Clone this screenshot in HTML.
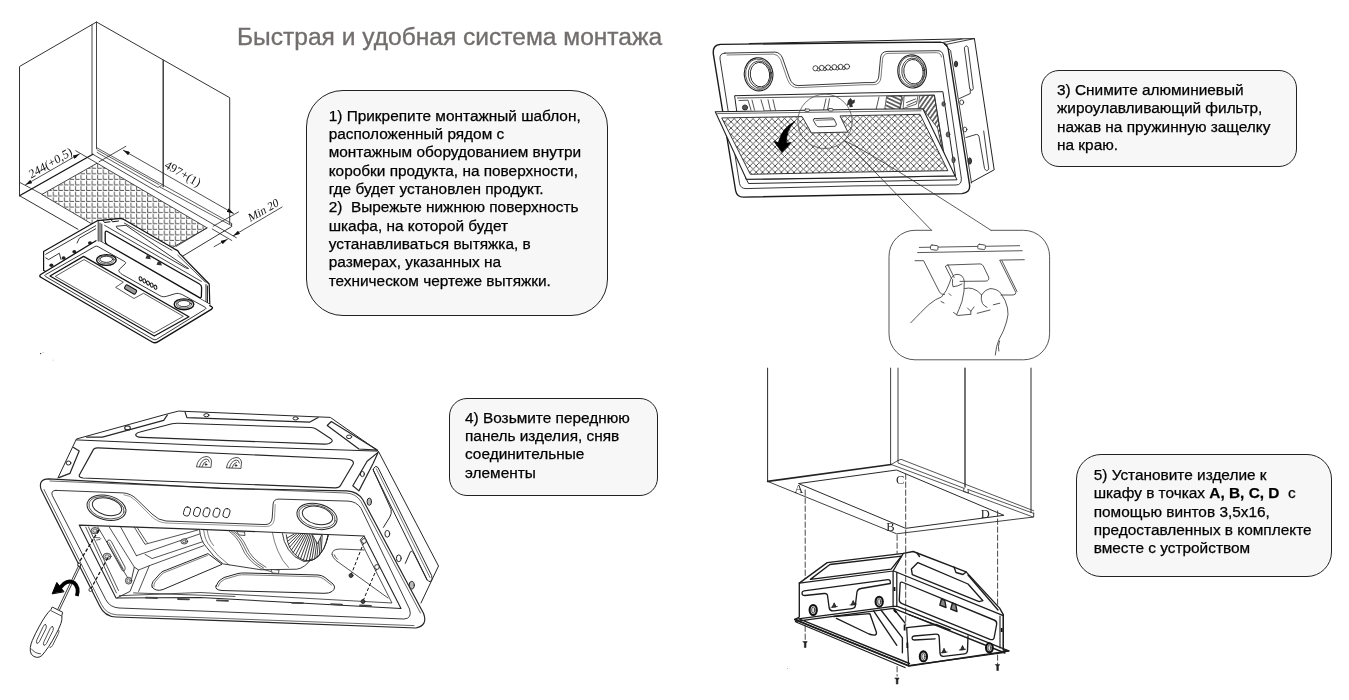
<!DOCTYPE html>
<html><head><meta charset="utf-8">
<style>
html,body{margin:0;padding:0;background:#fff;}
body{width:1349px;height:700px;position:relative;overflow:hidden;font-family:"Liberation Sans",sans-serif;}
#title{position:absolute;left:237px;top:22.5px;font-size:24.55px;color:#726e6e;white-space:nowrap;line-height:28px;-webkit-text-stroke:0.35px #726e6e;}
.box{position:absolute;box-sizing:border-box;border:1px solid #222;background:#f7f7f7;}
.t{position:absolute;white-space:nowrap;color:#000;-webkit-text-stroke:0.25px #000;font-size:15.4px;line-height:18.33px;}
#art{position:absolute;left:0;top:0;}
</style></head><body>
<div id="wrap" style="position:absolute;left:0;top:0;width:1349px;height:700px;will-change:transform;background:#fff;">
<div id="title">Быстрая и удобная система монтажа</div>
<div class="box" id="b1" style="left:306px;top:90px;width:302px;height:226px;border-radius:37px;"></div>
<div class="t" id="t1" style="left:328.7px;top:106.7px;">1) Прикрепите монтажный шаблон,<br>расположенный рядом с<br>монтажным оборудованием внутри<br>коробки продукта, на поверхности,<br>где будет установлен продукт.<br>2)&nbsp; Вырежьте нижнюю поверхность<br>шкафа, на которой будет<br>устанавливаться вытяжка, в<br>размерах, указанных на<br>техническом чертеже вытяжки.</div>
<div class="box" id="b3" style="left:1041px;top:70px;width:256px;height:97px;border-radius:18px;"></div>
<div class="t" id="t3" style="left:1057px;top:81.1px;">3) Снимите алюминиевый<br>жироулавливающий фильтр,<br>нажав на пружинную защелку<br>на краю.</div>
<div class="box" id="b4" style="left:449px;top:398px;width:209px;height:98px;border-radius:18px;"></div>
<div class="t" id="t4" style="left:465px;top:408.6px;">4) Возьмите переднюю<br>панель изделия, сняв<br>соединительные<br>элементы</div>
<div class="box" id="b5" style="left:1076px;top:454px;width:256px;height:123px;border-radius:25px;"></div>
<div class="t" id="t5" style="left:1093.7px;top:466px;">5) Установите изделие к<br>шкафу в точках <b>A, B, C, D</b>&nbsp; с<br>помощью винтов 3,5х16,<br>предоставленных в комплекте<br>вместе с устройством</div>
<svg id="art" width="1349" height="700" viewBox="0 0 1349 700" fill="none" stroke="#333" stroke-width="1" stroke-linecap="round" stroke-linejoin="round">
<defs>
<pattern id="hL" width="5.55" height="5.55" patternUnits="userSpaceOnUse" x="97.1" y="163.2">
<path d="M0.6 1V5H4.3" stroke="#3c3c3c" stroke-width="0.85" fill="none"/>
</pattern>
<marker id="ah" viewBox="0 0 10 6" refX="10" refY="3" markerWidth="7" markerHeight="4" orient="auto-start-reverse" markerUnits="userSpaceOnUse"><path d="M0 0L10 3L0 6z" fill="#111" stroke="none"/></marker>
</defs>
<g id="d1">
<!-- hatch -->
<path d="M42.1 194.3L97.1 163.2L207.1 227.9L152.1 259z" fill="url(#hL)" stroke="#333" stroke-width="0.9"/>
<!-- cabinet -->
<path d="M19.5 195.7V66.5L96.5 22L229.7 97.7V223.7" />
<path d="M92 24.6V153.6M96.5 22V148.6" stroke-width="0.9"/>
<path d="M163.2 60.4V186.5" stroke-width="1.4"/>
<path d="M19.5 195.7L92.9 154.3" stroke-width="1.3" stroke="#111"/>
<path d="M19.5 195.7L78 229.3"/>
<path d="M92.9 154.3L236.3 237.7" stroke-width="0.9"/>
<path d="M97.1 147.9L231.8 223.6M97.1 149.9L159 184.6M160 187L231.8 225.8M97.1 152.4L158 187.5L161.5 185.2" stroke-width="0.8"/>
<path d="M231.6 224V226.6L182.9 256"/>
<path d="M207.1 227.9L176 246.5" stroke-width="0.9"/>
<!-- dimensions -->
<g stroke="#222" stroke-width="0.8">
<path d="M25.5 184.8L79.5 153.9" marker-start="url(#ah)" marker-end="url(#ah)"/>
<path d="M19.5 182.3L42.1 194.3M75.7 150.7L97.1 163.2"/>
<path d="M123.3 150.3L233.5 213.4" marker-start="url(#ah)" marker-end="url(#ah)"/>
<path d="M125.9 146.3L99 161.8M238.5 212L213.2 226.2"/>
<path d="M214.1 246.7L227.5 239.2" marker-end="url(#ah)"/>
<path d="M282.1 207L233.3 235.7" marker-end="url(#ah)"/>
<path d="M212.2 229L231.8 240.5"/>
</g>
<g font-family="Liberation Serif, serif" font-size="12.2" fill="#111" stroke="none">
<text transform="translate(31 178.8) rotate(-30) skewX(-8)">244(+0,5)</text>
<text transform="translate(163.8 167.3) rotate(30)">497+(1)</text>
<text transform="translate(250 222.3) rotate(-30) skewX(-12)" font-size="11.6">Min 20</text>
</g>
<g id="speck" stroke="none"><rect x="40" y="353" width="1.2" height="1.2" fill="#444"/><rect x="42.300" y="352.300" width="2" height="0.800" fill="#ccc"/><rect x="52.600" y="359.500" width="1.600" height="1.600" fill="#e6e6e6"/><rect x="787" y="668" width="1" height="1" fill="#bbb"/></g><!--HOOD1--><g id="hood1">
<path d="M43.6 270.5L43.6 251.4L97.7 220.6L120.9 218.4L124.3 219.7L173.8 248.6L177.7 250.6L179.8 253.8L209.2 284.0L209.8 304.6L155.0 320.0z" fill="#fff" stroke="#111" stroke-width="1.2"/>
<path d="M45.7 254.3L95.7 225.7M45.7 257.9L48.6 259.6L59.3 253.2L61 259.5M77.1 243L79.3 238.2L95.7 228.8" stroke-width="0.9" stroke="#222"/>
<ellipse cx="51.4" cy="265.3" rx="2" ry="1.7" fill="#222" stroke="none"/>
<ellipse cx="63.6" cy="258" rx="2" ry="1.7" fill="#222" stroke="none"/>
<ellipse cx="74.3" cy="251.8" rx="2" ry="1.7" fill="#222" stroke="none"/>
<ellipse cx="90" cy="243" rx="2" ry="1.7" fill="#222" stroke="none"/>
<path d="M98.2 221.5V241.5M100 223V241.5M101.8 224V242" stroke-width="0.9" stroke="#111"/>
<path d="M124.3 223L172 250.4M104.6 225.3L201.4 281.4" stroke-width="0.9"/>
<path d="M116.6 226.2L126 225.3L188.6 268.6L185.5 267.8L117.4 228.3z" stroke-width="0.9" stroke="#222"/>
<path d="M103 220.2L104.5 222.5L110 221.8M111 219.3L112.5 221.8L118.5 221" stroke-width="1" stroke="#111"/>
<path d="M177.7 255.1L205.3 282.1M181 254.5L207.3 283" stroke-width="0.8"/>
<path d="M107.4 231.5Q105.2 230.3 105.2 232.8L105.2 241.0Q105.2 243.5 107.4 244.7L199.1 297.4Q201.3 298.6 201.4 296.1L201.6 287.7Q201.7 285.2 199.5 284.0z" stroke="#111" stroke-width="1.3"/>
<path d="M145.4 258.5L146.9 255L149.9 256L150.70000000000002 259.3z" fill="#333" stroke="none"/>
<path d="M156.5 264.8L158 261.3L161 262.3L161.8 265.6z" fill="#333" stroke="none"/>
<path d="M206 284.5V302.5M207.5 286V303" stroke-width="0.9" stroke="#111"/>
<path d="M101 241.8L209.5 304.3M103 245.6L206 305" stroke-width="1.2" stroke="#111"/>
<path d="M38.4 275.9L95.5 241.2L101.0 241.8L209.5 304.3L213.6 307.9L155.0 343.6z" fill="#fff" stroke="none"/>
<path d="M96.0 240.8L41.1 274.2Q38.4 275.9 41.2 277.5L152.2 342.0Q155.0 343.6 157.7 341.9L210.9 309.6Q213.6 307.9 211.7 306.8L209.8 305.6" stroke="#111" stroke-width="1.3"/>
<path d="M45.5 276.5Q43.9 275.6 45.5 274.7L94.8 246.6Q96.4 245.7 98.0 246.6L124.9 261.7Q126.5 262.6 125.2 263.8L119.5 269.2Q118.2 270.4 119.3 271.8L119.6 272.2Q120.7 273.6 122.3 274.5L160.0 295.7Q161.6 296.6 163.2 296.7L163.2 296.7Q164.9 296.8 166.6 296.3L175.2 293.7Q176.9 293.2 178.7 293.5L179.4 293.7Q181.2 294.0 182.8 294.9L205.3 307.3Q206.9 308.2 205.4 309.1L156.5 339.4Q155.0 340.3 153.4 339.4z" stroke="#222" stroke-width="0.9"/>
<path d="M50.0 276.0L83.6 256.4L188.9 316.7L154.3 336.0z" stroke="#111" stroke-width="1.3"/>
<path d="M55.6 276.2L84.0 259.6L123.3 282.2L115.6 287.3L134.0 298.5L143.5 293.3L183.3 316.3L154.3 332.8z" stroke="#333" stroke-width="0.8"/>
<g transform="translate(130.6 289.5) rotate(30)"><rect x="-6.2" y="-2.3" width="12.4" height="4.6" rx="1.2" stroke="#111" stroke-width="1" fill="#999"/></g>
<ellipse cx="106.4" cy="260" rx="9.8" ry="5.4" stroke="#111" stroke-width="1.4"/><ellipse cx="106.4" cy="259.7" rx="7.8" ry="4.2" stroke="#333" stroke-width="0.8"/><ellipse cx="106.4" cy="259.3" rx="6.3" ry="3.1" stroke="#222" stroke-width="0.9"/>
<ellipse cx="184" cy="304.3" rx="9.8" ry="5.4" stroke="#111" stroke-width="1.4"/><ellipse cx="184" cy="304.0" rx="7.8" ry="4.2" stroke="#333" stroke-width="0.8"/><ellipse cx="184" cy="303.6" rx="6.3" ry="3.1" stroke="#222" stroke-width="0.9"/>
<ellipse cx="140.6" cy="278.8" rx="1.4" ry="2.1" stroke="#111" stroke-width="1" transform="rotate(-20 140.6 278.8)"/>
<ellipse cx="144.3" cy="280.9" rx="1.4" ry="2.1" stroke="#111" stroke-width="1" transform="rotate(-20 144.3 280.9)"/>
<ellipse cx="148.0" cy="283.0" rx="1.4" ry="2.1" stroke="#111" stroke-width="1" transform="rotate(-20 148.0 283.0)"/>
<ellipse cx="151.7" cy="285.1" rx="1.4" ry="2.1" stroke="#111" stroke-width="1" transform="rotate(-20 151.7 285.1)"/>
<ellipse cx="155.4" cy="287.2" rx="1.4" ry="2.1" stroke="#111" stroke-width="1" transform="rotate(-20 155.4 287.2)"/></g><!--/HOOD1--></g>

<defs>
<pattern id="mesh" width="6.3" height="6.3" patternUnits="userSpaceOnUse" patternTransform="translate(724.7 115.5)">
<path d="M0 0L6.3 6.3M6.3 0L0 6.3" stroke="#3a3a3a" stroke-width="0.85" fill="none"/>
</pattern>
<pattern id="imp" width="3.6" height="3.6" patternUnits="userSpaceOnUse" patternTransform="rotate(25)">
<path d="M0 1.8H3.6" stroke="#2a2a2a" stroke-width="1.2"/>
</pattern>
</defs>
<g id="d3" stroke-width="1.1" stroke="#2a2a2a">
<!-- body back/top/side -->
<path d="M749.3 43.5L974.4 38.6L994.2 169.8L971 182.5" stroke="#222" stroke-width="1"/>
<path d="M946 44.5L974.4 38.6M943 42.4L962 38.9" stroke-width="0.9"/>
<!-- side details -->
<path d="M964.5 47.5Q966.2 44.3 968 47.2L973.3 88.5Q972.3 92 970 89.2z" stroke-width="0.9"/>
<path d="M959.5 98.5L970.3 93.5L970.3 89M966 137.5L976.3 134.4Q978.5 134.4 979 136.5L984.5 168.5Q986.5 172.5 988.8 169L983.7 131" stroke-width="0.9"/>
<g fill="#444" stroke="#222" stroke-width="0.8"><ellipse cx="956" cy="64" rx="1.6" ry="3"/><ellipse cx="961.7" cy="102.3" rx="2" ry="2.4" fill="#fff"/><ellipse cx="964.9" cy="129.5" rx="2" ry="2.4" fill="#fff"/><ellipse cx="969.8" cy="161" rx="1.7" ry="3.2"/></g>
<!-- plate outer -->
<path d="M720.7 44.4L865 42.8L940 42.1Q947.2 42.4 948.4 50L969.6 185Q970.4 192.8 962 193.6L855 195L743.5 197.1Q736.8 197.2 735.6 190.5L713.4 54.3Q712.2 44.7 720.7 44.4z" fill="#fff" stroke="#1c1c1c" stroke-width="1.4"/>
<path d="M944 44L950.6 50.5L971.5 183" stroke-width="0.9"/>
<!-- inner border (double) -->
<path id="ib3" d="M725 53.1L775 52.1Q780 52.3 782.5 58L789.5 78Q792 85.3 798 85.6L865 82.6L873 82.6Q878.3 82.3 878.8 76L880.5 58Q881 51.8 887 51.4L938 50.7Q942.6 50.8 943.4 56L961.3 178Q962 184.8 956 185L855 185.9L746 188.6Q740.6 188.6 739.5 183.5L720 59Q719.4 53.3 725 53.1z" stroke="#222" stroke-width="0.9"/>
<path d="M727 55L773.5 54.1Q778 54.3 780.5 59.5L787.5 79.5Q790.5 87.5 797.5 87.7L865 84.7L874 84.7Q880.5 84.3 881 77L882.5 59.5Q883 53.7 888 53.4L936.5 52.7Q940.8 52.8 941.5 57" stroke="#444" stroke-width="0.7"/>
<!-- opening -->
<path d="M735 95.7L865 92.9L942.9 91.7L955.5 176L746.4 179.3z" fill="#fff" stroke="#222" stroke-width="1"/>
<path d="M737.5 98L934.3 95L947 172M739 100.5L748 100.2L751 110M752 100L754.5 110M761 99.8L764 110M768 99.7L770.5 110.5M773 99.6L775.5 110.5" stroke-width="0.8"/>
<path d="M826 98.8L823.5 110M829.5 98.8L827.5 110" stroke-width="0.8"/>
<circle cx="745" cy="107.5" r="2.6" fill="#555" stroke="#222" stroke-width="0.8"/>
<path d="M848 100.500L850.500 98L852.500 100.500L855 99.500L854.500 103L852.300 104L852.800 107L849.500 107.300L849.200 104.500L846.800 106z" fill="#333" stroke="none"/>
<!-- impeller -->
<defs><pattern id="imp2" width="3.6" height="3.6" patternUnits="userSpaceOnUse" patternTransform="rotate(-55)"><path d="M0 1.8H3.6" stroke="#2a2a2a" stroke-width="1.2"/></pattern></defs>
<path d="M887 96.300L902 96L899.500 109.800L885 110.100z" fill="url(#imp)" stroke="#222" stroke-width="0.7"/>
<path d="M904.500 96L918 95.700L916.500 104L903.500 108.500z" fill="#fff" stroke="#222" stroke-width="0.7"/>
<path d="M906.500 102.500L915.500 99M907 105.500L916 101.500" stroke-width="0.8"/>
<path d="M920 95.700L934.500 95.300L944.500 160L937.500 128L923.500 109.500L918.500 109.600z" fill="url(#imp2)" stroke="#222" stroke-width="0.7"/>
<path d="M903 97L900 109M879 97L876 110" stroke-width="0.8"/>
<g fill="#666" stroke="#222" stroke-width="0.7"><ellipse cx="948" cy="134.500" rx="1.800" ry="2.600"/><ellipse cx="943.500" cy="104" rx="1.600" ry="2.300"/><ellipse cx="953.500" cy="160" rx="1.600" ry="3"/></g>
<!-- lights -->
<g stroke="#222">
<ellipse cx="758.6" cy="74.3" rx="14.3" ry="16.6" stroke-width="1.1" transform="rotate(-8 758.6 74.3)"/>
<ellipse cx="758.6" cy="74.3" rx="13" ry="15.3" stroke-width="0.7" transform="rotate(-8 758.6 74.3)"/>
<ellipse cx="759.6" cy="74.6" rx="11.3" ry="13.7" stroke-width="0.8" transform="rotate(-8 759.6 74.6)"/>
<ellipse cx="760" cy="74.6" rx="9.7" ry="12.3" stroke-width="0.9" transform="rotate(-8 760 74.6)"/>
<ellipse cx="912.1" cy="71.4" rx="14.3" ry="16.6" stroke-width="1.1" transform="rotate(-8 912.1 71.4)"/>
<ellipse cx="912.1" cy="71.4" rx="13" ry="15.3" stroke-width="0.7" transform="rotate(-8 912.1 71.4)"/>
<ellipse cx="913.1" cy="71.7" rx="11.3" ry="13.7" stroke-width="0.8" transform="rotate(-8 913.1 71.7)"/>
<ellipse cx="913.5" cy="71.7" rx="9.7" ry="12.3" stroke-width="0.9" transform="rotate(-8 913.5 71.7)"/>
</g>
<!-- buttons -->
<g stroke="#222" stroke-width="0.8" fill="#fff"><circle cx="815.5" cy="68.3" r="2.6"/><circle cx="821.8" cy="67.9" r="2.6"/><circle cx="828.1" cy="67.5" r="2.6"/><circle cx="834.4" cy="67.2" r="2.6"/><circle cx="840.7" cy="66.9" r="2.6"/><circle cx="847" cy="66.6" r="2.6"/>
<circle cx="818.6" cy="69.6" r="1.5"/><circle cx="824.9" cy="69.2" r="1.5"/><circle cx="831.2" cy="68.8" r="1.5"/><circle cx="837.5" cy="68.5" r="1.5"/><circle cx="843.8" cy="68.2" r="1.5"/></g>
<!-- filter -->
<path d="M715.3 111.8L865 109.3L922.9 108.8L955 175.7L855 177.9L746.4 179.3z" fill="#fff" stroke="#222" stroke-width="1.1"/>
<path d="M717.5 113.6L921 110.8" stroke-width="0.7"/>
<path d="M722.1 117.9L802.1 116.6L811.4 132.9L847.9 132.1L840 115.9L920 114.3L947.9 170.7L855 172.1L750.7 174.3z" fill="url(#mesh)" stroke="#222" stroke-width="0.9"/>
<path d="M746.4 179.3L748.5 183.5L957 179.8L955 175.7" stroke-width="1"/>
<g stroke-width="0.8"><rect x="805" y="109" width="4.4" height="2.4" rx="0.6" fill="#fff"/><rect x="828.5" y="108.6" width="4.4" height="2.4" rx="0.6" fill="#fff"/></g>
<path d="M814.6 118.6L832 118Q833.5 118 834.2 119.3L836.3 123.8Q836.8 125.6 835 126.3L819 126.8Q817 126.8 816.2 125.3L813.3 120.3Q812.8 118.8 814.6 118.6z" fill="#fff" stroke-width="0.9"/>
<path d="M815.8 120.3L833.8 119.7" stroke-width="0.7"/>
<!-- arrow -->
<path d="M794.600 121.800Q782.500 127 778.200 142.600L773.800 141.300L782.100 152.600L791.200 142.400L786.600 142.900Q785.800 131 794.600 121.800z" fill="#000" stroke="#000" stroke-width="0.6"/>
<!-- magnifier -->
<circle cx="825" cy="121.4" r="27.2" stroke="#555" stroke-width="0.8"/>
<path d="M845 141L931.5 230.3M845 141Q870 152 991 230.3" stroke="#333" stroke-width="0.8"/>
<!-- callout box -->
<path d="M931.5 230.3H915A26 26 0 0 0 889 256.3V333.8A26 26 0 0 0 915 359.8H1023.5999999999999A26 26 0 0 0 1049.6 333.8V256.3A26 26 0 0 0 1023.5999999999999 230.3H991" stroke="#444" stroke-width="0.9"/>
<g stroke="#444" stroke-width="0.9">
<path d="M919.3 247.4L1019.6 245.7M917.6 252.6L1022.2 250.7"/>
<rect x="930.5" y="245.3" width="7.5" height="4.6" rx="1.2" fill="#fff" transform="rotate(8 934 247.6)"/><rect x="977.8" y="244.6" width="7.5" height="4.6" rx="1.2" fill="#fff" transform="rotate(8 981.5 247)"/>
<path d="M915 260.7H923.6L939.5 292Q941 295 944.5 294.5M1024.3 259.7L999.7 260.1L1015.8 292.5Q1016 294.8 1013 295H1001M1001.8 260.5L1017 291.5"/>
<path d="M948 265L980 263.9Q982.3 264 983.3 266L988.6 277Q989.6 280.6 986 281.1L960 281.4M945.5 266.5Q945.8 265 948 265M945.5 266.5L951.5 278.5M948 265L954.2 277.5"/>
<!-- hand -->
<path d="M910.8 322.8Q922 311 929 304.5Q936 298.5 941.5 297Q947 291 949.5 283Q951.5 274.5 957 274.3Q963.5 274.5 964.3 281.5Q964.8 291 962 301.5Q958.5 311 956.5 315"/>
<path d="M952.6 279.5Q952 283.5 953 286.8Q958 286.3 962 284"/>
<path d="M964.5 288.5Q969 287.6 972.5 288.6Q978.5 290.5 981.5 295Q985 289.5 990 288.6Q997 288.6 1001 293.5Q1006 300.5 1007.5 308Q1009 314 1006.5 322Q1004 331 999 339.5Q996 346 995.3 355"/>
<path d="M981.5 295Q980.5 299.5 982.5 303.5Q984.5 306.5 987 307.3"/>
<path d="M953.5 312.5L958 315.5L970.5 314.3M967.5 308L970.8 311.3L974 307M970.8 311.3V314.3M977.2 313.3L990 310M993.3 304.8L999.8 303.2M941 301.5L944 303M949 293.5L951 295.5" />
<path d="M999.5 341Q997.5 346.5 998.8 351" />
</g>
</g>

<defs>
<pattern id="fan" width="3" height="6" patternUnits="userSpaceOnUse" patternTransform="rotate(20)">
<path d="M1 0V6" stroke="#222" stroke-width="1.1"/>
</pattern>
</defs>
<g id="d4" stroke="#262626" stroke-width="1">
<!-- body top -->
<path d="M57.9 478L76.4 439L167.4 413.9L178.6 411.1L330.3 417.4L378.3 451.1L438.5 566L421 603" fill="#fff" stroke-width="1"/>
<path d="M76.4 439.9L220 446L377.3 451.1" />
<!-- left chamfer bracket -->
<path d="M73.6 447.4L79.2 451.1L69.9 473.4L58.9 477.6" stroke-width="1.2"/>
<ellipse cx="68.5" cy="463" rx="2.4" ry="2" stroke-width="1"/>
<!-- top-left slope bracket -->
<path d="M86.6 437.1L102.4 437.1L163.7 420.4L167.4 414.9" stroke-width="1.2"/>
<ellipse cx="127.5" cy="427.9" rx="2.8" ry="2" stroke-width="1.1"/>
<!-- top bracket -->
<path d="M185.1 412.1L186.9 417.6L309.9 422.1L318.1 417.4" stroke-width="1.2"/>
<ellipse cx="206.4" cy="415.2" rx="2.6" ry="1.6"/><ellipse cx="295.6" cy="418.4" rx="2.6" ry="1.6"/>
<!-- right slope bracket -->
<path d="M327.2 425.5L331.3 421.5L377.3 450.1L358.9 449z" stroke-width="1.2"/>
<ellipse cx="349.1" cy="436.8" rx="2.6" ry="1.8"/>
<!-- top recess -->
<path d="M135.8 434.4Q137 432.5 140 432L172 423.8Q174.8 423.2 178 423.3L311 427.5Q314 427.6 316.5 429.2L330.5 438.5Q333.5 440.5 331.2 442.2L329 443.5Q327 444.2 324 444.1L142 437.4Q135 437 135.8 434.4z" stroke-width="1.1"/>
<!-- front upper panel -->
<path d="M93.1 450.1Q94 447.7 98 447.9L345.7 459Q354.5 459.5 353.2 464L340.5 485.5Q339 488 335 487.8L83 478Q78 477.6 79.6 474.5z" stroke-width="1.2"/>
<!-- wifi icons -->
<g stroke-width="0.8"><path d="M196.5 466.5Q198 457.5 206 456.5Q210.5 456.5 211.5 461L211 467zM199.5 466.6Q201 460 206.2 459Q209 459 209.3 462M202 466.7Q203.5 462 206.5 461.3"/><circle cx="206" cy="464.5" r="0.8" fill="#222"/>
<path d="M226.5 467.5Q228 458.5 236 457.5Q240.500 457.5 241.5 462L241 468zM229.500 467.6Q231 461 236.2 460Q239 460 239.300 463M232 467.7Q233.500 463 236.500 462.3"/><circle cx="236" cy="465.5" r="0.8" fill="#222"/></g>
<!-- right corner bracket -->
<path d="M378.3 452.1L367.1 461.3L352.8 485.8L358.9 490.9L373.2 463.3z" stroke-width="1.2"/>
<ellipse cx="362.4" cy="474" rx="2" ry="2.6"/>
<!-- body right face details -->
<path d="M374.400 467.500Q375.500 465 378 467.500L431.600 575.500Q433 579.500 431 581.200Q428.800 582.600 427 579.500L373.400 470.500Q372.800 468.500 374.400 467.500z" />
<path d="M376.300 468.800L430 577.500" stroke-width="0.6"/>
<path d="M373.100 469.600L391.100 509.400Q392 513.500 389.800 517.100L383.400 527.400" />
<path d="M405.300 563.400L410.400 551.800Q412 550 414.300 554.400L427.100 580.100" />
<g fill="#bbb"><ellipse cx="369.300" cy="501.700" rx="2.200" ry="3.600"/><ellipse cx="387.300" cy="533.800" rx="2.400" ry="3.400" fill="#fff"/><ellipse cx="398.800" cy="558.300" rx="2.400" ry="3.400" fill="#fff"/><ellipse cx="411.700" cy="585.200" rx="2.600" ry="3.800"/></g>
<!-- plate outer -->
<path d="M48.6 478.9L220 488.3L346.7 490.9Q357.5 491.300 363 500L423.6 613.5Q428 625.500 416 628L200 619.8L116 617Q104.500 616.5 99.7 606L41.1 489.500Q38 479 48.6 478.9z" fill="#fff" stroke-width="1.2"/>
<path d="M50 481L346 493Q356 493.500 361 501.5L420.500 613M44 489.500L101.500 604.500Q106 614 116.500 614.800L200 617.600L414 625.600" stroke-width="0.7"/>
<!-- inner border -->
<path d="M56 490.4L122.900 492.900Q131 493.300 137 499.500L152 514Q158.500 520.500 166 521L265 524.600Q271.500 524.700 272.200 518L273.100 504Q273.600 499 279 499.100L348 501.100Q356.500 501.500 361 508.300L409.500 609Q412.500 618.500 404 619L200 611L119 608Q110 607.500 105.800 599.700L52.300 495.500Q50.500 490.300 56 490.400z" stroke-width="0.9"/>
<path d="M124 494.800Q130.500 495.200 135.500 500.500L150.500 515.500Q157.500 522.500 166 523L266 526.600Q274 526.500 274.500 518.500L275.200 504.500" stroke-width="0.6" stroke="#555"/>
<!-- lights -->
<g stroke-width="1">
<ellipse cx="106.500" cy="507.700" rx="19.800" ry="12.200" transform="rotate(14 106.500 507.700)"/>
<ellipse cx="106.500" cy="507.700" rx="18" ry="10.700" transform="rotate(14 106.500 507.700)" stroke-width="0.7"/>
<ellipse cx="107" cy="506.700" rx="15" ry="8.500" transform="rotate(14 107 506.700)"/>
<ellipse cx="317" cy="516.400" rx="20.400" ry="12.600" transform="rotate(14 317 516.400)"/>
<ellipse cx="317" cy="516.400" rx="18.600" ry="11" transform="rotate(14 317 516.400)" stroke-width="0.7"/>
<ellipse cx="317.500" cy="515.400" rx="15.500" ry="8.800" transform="rotate(14 317.500 515.400)"/>
</g>
<!-- buttons -->
<g stroke-width="0.9" fill="#fff">
<rect x="184" y="507" width="6" height="9" rx="2.4" transform="rotate(18 187 511.500)"/><rect x="194" y="507.400" width="6" height="9" rx="2.400" transform="rotate(18 197 511.900)"/><rect x="203.500" y="507.800" width="6" height="9" rx="2.400" transform="rotate(18 206.500 512.300)"/><rect x="213.500" y="508.200" width="6" height="9" rx="2.400" transform="rotate(18 216.500 512.700)"/><rect x="223.500" y="508.600" width="6" height="9" rx="2.400" transform="rotate(18 226.500 513.100)"/>
</g>
<!-- opening -->
<path d="M79.200 525.100L200 529.400L364 536L401 608.500L200 597.500L116 598z" fill="#fff" stroke-width="1.1"/>
<!-- cavity interior -->
<g stroke-width="0.8">
<path d="M119.300 595.700L200 592.500L392 603L360 540L364 536M133.600 592.900L235 596.400" />
<!-- left bracket -->
<path d="M85.700 527.100L116.400 592.900M88.500 527L118.500 590.500M97.900 527.100L130.700 582.900M109.300 527.100L134.300 567.100M120.700 527.100L136.400 555.700" />
<path d="M107.100 541.400Q107.600 540 109.300 540Q110.500 540 111.300 541.500L125 567Q125.500 569 124.500 570.500Q123.500 571.800 122.300 570.500L107.500 543.500Q106.800 542.300 107.100 541.400z"/>
<path d="M108.800 542.500L123.300 569" stroke-width="0.6"/>
<path d="M130.700 582.900L134.300 567.100L138.600 570L130 591.400L117.100 597.900" stroke-width="0.9"/>
<path d="M95.500 537.500L100 537.800Q101.500 538.500 100 539.500L96.500 540" stroke-width="0.7"/>
<g fill="#e4e4e4"><ellipse cx="95" cy="530.700" rx="4" ry="3.200"/><ellipse cx="107.100" cy="556.400" rx="4" ry="3.200"/><ellipse cx="128.600" cy="580.700" rx="3.200" ry="3.400"/></g>
<g stroke-width="0.6"><ellipse cx="95" cy="530.700" rx="2.200" ry="1.700"/><ellipse cx="107.100" cy="556.400" rx="2.200" ry="1.700"/><ellipse cx="128.600" cy="580.700" rx="1.700" ry="1.900"/></g>
<!-- Y frame -->
<path d="M136.400 555.700L200.700 533.600M134.300 527.100L145 544.300L197.900 530M137 527.200L146.500 542L147.500 542.800M145 554.300L152.100 558.600L203.600 541.400M138.600 570L149.300 565.700L203.600 545.700M149.300 565.700L138.600 591.400" />
<g fill="#e4e4e4"><ellipse cx="184.300" cy="541.400" rx="3.400" ry="2.600"/></g><ellipse cx="184.300" cy="541.400" rx="1.800" ry="1.300" stroke-width="0.6"/>
<path d="M152.100 587.100Q151 585 153 581.500L160.700 572.900Q162.500 571 166.400 570L207.900 553.600L222.100 564.300L163 589.500Q156 592 152.100 587.100z" stroke-width="1"/>
<path d="M154 586.500Q153.300 585 155 582L162 574Q163.500 572.500 167 571.500L207.500 555.400" stroke-width="0.6"/>
<path d="M216 586Q218 580 224 577.500L238 573.500Q241 572.800 246 573L318 575Q322 575.200 325 577.500L333 584Q336.500 588 332 591.500Q329 593.500 324 593.300L222 590.500Q214.500 590 216 586z" stroke-width="1"/>
<path d="M218 586.300Q219.500 581.500 224.500 579.300L238.500 575.200Q241 574.600 246 574.800L317.500 576.800Q321 577 323.800 579L331.500 585" stroke-width="0.6"/>
<path d="M332 554.500Q331.500 551 336 549.500L340 549L364 550M332 554.500Q333 558 336 560.500L388 598M334.300 554.800Q335 557.300 337.500 559.300" />
</g>
<!-- motor -->
<g stroke-width="0.8">
<path d="M199.500 529.500Q200.500 541 206.600 547.300Q214 558 223.200 563.900L261.200 569.800L296.800 569.200Q305 568 311 559" fill="#fff" stroke-width="0.9"/>
<path d="M203.600 530Q205 541 210.200 546.300Q217 556 229.100 565M207.200 530.200Q208.500 540 213.500 545.500" stroke-width="0.6"/>
<path d="M229.100 531.300Q237.400 537 241.500 546.500Q246.500 560 261.200 568.600L270.700 571.600M231.500 531.300Q239.800 537 243.900 546.500Q248.900 559.500 263.600 568M234 531.400Q242.200 537 246.300 546.500Q251.300 559 266 567.300" stroke-width="0.7"/>
<path d="M237 531.500L244.500 532L245 535.500L239.500 535zM271.500 569.500L279 570L278.500 573.500L272.500 573z" fill="#fff" stroke-width="0.8"/>
<path d="M272.400 532.500Q274 542 277.800 550.800Q282 561 288.500 567.500" stroke-width="0.6"/>
<path d="M282.5 533.6L284.3 541.4L288.5 549.7L295.0 556.8L303.9 561.5L312.2 560.3L318.1 556.8L324.0 548.5L328.2 535.4" stroke-width="0.9"/>
<path d="M286.3 534.8L287.5 541.4L289.6 547.3L293.2 552.6L297.9 557.0L303.3 560.1L309.2 560.9L314.6 558.9L319.3 555.0L323.1 549.7L326.2 543.1L328.0 536.0" stroke-width="0.9"/>
<path d="M286.9 538.1L294.1 534.1M287.5 541.4L296.5 534.1M288.6 544.3L298.7 534.2M289.6 547.3L300.7 534.2M291.4 550.0L302.6 534.3M293.2 552.6L304.5 534.3M295.6 554.8L306.3 534.4M297.9 557.0L308.0 534.4M300.6 558.6L309.7 534.5M303.3 560.1L311.3 534.5M306.3 560.5L313.0 534.6M309.2 560.9L314.6 534.6M311.9 559.9L316.1 534.7M314.6 558.9L317.7 534.8M316.9 557.0L319.2 534.8M319.3 555.0L320.7 534.9M321.2 552.3L322.2 534.9M327.1 539.6L328.0 535.1" stroke="#1a1a1a" stroke-width="0.85"/>
<path d="M312.200 534.600L317.500 543.700L321.700 535z" fill="#fff" stroke-width="0.8"/>
</g>
<!-- bottom dashes -->
<path d="M146 597.700L157 598M178 599L189 599.300M217 600.400L228 600.800M292 602.800L303 603.200M331 604.200L342 604.600M360 605.400L371 605.800" stroke-width="1.8" stroke="#444"/>
<!-- screws dashed -->
<g stroke="#111" stroke-width="1.3" stroke-dasharray="3.4 2" stroke-linecap="butt"><path d="M98.700 530.200L78.200 563.900M107.800 557.800L90.500 589.500"/><path d="M364 542L351 575M377 568L363 601" stroke-width="1"/></g>
<g fill="#fff" stroke-width="0.9"><circle cx="79.200" cy="564.900" r="1.600"/><circle cx="90.500" cy="589.900" r="1.600"/><circle cx="364" cy="541" r="2.400"/><circle cx="377" cy="567" r="2.400"/><circle cx="351" cy="575.500" r="2" fill="#444"/><circle cx="363" cy="601.500" r="2" fill="#444"/></g>
<!-- screwdriver -->
<path d="M78.700 565.500L57.800 609.200M80.300 566.300L59.500 610" stroke-width="0.9"/>
<path d="M52.600 607.200L62.600 612.200L61.900 615.600Q62.300 620 60.900 623.500Q58.500 630 55.800 634.400Q52.500 641 48.600 646.700Q45 652 41.500 655.900Q39 657.800 36.300 657.300Q33 656.800 31.300 654Q29.800 651.500 30.300 647.500Q31 643.500 32.300 640.500Q35.500 633 39.400 626.200Q42 621 45.500 616Q48 612.500 50.600 609.900z" fill="#fff" stroke-width="1"/>
<path d="M51.200 610.800L61.500 616" stroke-width="0.8"/>
<path d="M45.500 624.500Q47.300 625.300 46 628.500L39.500 641.500Q38 644 36.800 643.200Q35.800 642.200 37 639.500L43.200 626.500Q44.500 624 45.500 624.500zM52.500 626.500Q54.300 627.500 53 630.500L46.500 643.500Q45 646 43.800 645.200Q42.800 644.200 44 641.500L50.200 628.500Q51.500 626 52.500 626.500zM58.800 630Q59.500 631 58.500 633.500L52.500 645.500Q51 648 50 647.500" stroke-width="0.8"/>
<path d="M31.500 649Q34.500 653.500 40.500 653.800" stroke-width="0.8"/>
<!-- rotation arrow -->
<path d="M58.500 590.500Q66 578 74 582.800Q79.500 587.500 76.800 596" stroke="#000" stroke-width="3.800" fill="none" stroke-linecap="butt"/>
<path d="M52.300 593.500L56.800 582.500L63.800 591.500z" fill="#000" stroke="#000" stroke-width="1"/>
</g>

<g id="d5" stroke="#2a2a2a" stroke-width="0.9">
<!-- cabinet -->
<path d="M767.6 368.100V481.400M1031 368.100V512.500" stroke-width="1"/>
<path d="M890.600 368.100V464.500M898 368.100V460.500" />
<path d="M965 368.100V487" stroke-width="1.300"/>
<path d="M767.600 481.400L891.200 464.500" stroke-width="1.600" stroke="#222"/>
<path d="M767.600 481.400L896.600 533.800L1033.700 517V513" />
<path d="M891.200 464.500L898 460.500L901 459.300L1033.700 510.800M898 460.500V463L964 488.300M968 489.500L1033.700 513.400M891.200 464.500L1033 517M964 488.300L963.500 491.500L968.500 493L968 489.500" stroke-width="0.8"/>
<!-- cutout -->
<path d="M798.900 483.500L896.600 470L1003.900 515.300L906.100 528.300z" stroke-width="1"/>
<g font-family="Liberation Serif, serif" font-size="12.5" fill="#222" stroke="none"><text x="794.300" y="493.200">A</text><text x="896" y="484.200">C</text><text x="886.300" y="530.500">B</text><text x="980.800" y="518.200">D</text></g>
<!-- dashed -->
<g stroke="#333" stroke-width="0.9" stroke-dasharray="5.4 2.600"><path d="M805.200 490V640M905.700 474V552M897.100 535V553.500M997.600 511V664"/></g>
<!-- hood body --><g stroke-width="1.25" stroke="#1c1c1c">
<path d="M799.300 617V583.100L827.200 562.600L903.300 553.400L913.200 551.500L966.100 571.900L999.600 608.100L1003.300 614.600V650L1008.800 651L909 666L794.600 619.500z" fill="#fff" stroke-width="1.35"/>
<!-- mask dashed inside body? keep dashed visible through: redraw -->
<g stroke="#333" stroke-width="0.9" stroke-dasharray="5.4 2.600"><path d="M897.100 666.500V676M905.700 552V625"/></g>
<!-- left face -->
<path d="M799.300 583.100L893.100 571L903.300 553.400M893.100 571V606M896.800 572V606.500M893.700 571L1003.300 615.600" />
<path d="M810.400 579.400L829.900 564.500L901.500 556.100L891.200 569.100z" stroke-width="1.35"/>
<path d="M804 590.900L888 579.700Q890.300 579.600 890.300 582V583.500L861 588.500Q857.200 589.200 856.900 592.500L855.300 606Q855 608.200 852 608.600L833.500 610.800Q829.800 611 829.200 608L827.500 595.500Q827.200 593.200 824 593.500L805 595.500Q802 595.600 802 593Q802 591.200 804 590.900z" stroke-width="1.35"/>
<g fill="#ddd" stroke="#111" stroke-width="2.100"><ellipse cx="813.200" cy="610" rx="3.600" ry="5"/><ellipse cx="879.200" cy="601.700" rx="3.600" ry="5"/></g>
<g stroke-width="0.700"><ellipse cx="813.200" cy="610" rx="1.600" ry="3"/><ellipse cx="879.200" cy="601.700" rx="1.600" ry="3"/></g>
<path d="M832.300 607L834.200 602.800L836 606.600zM851.300 604.700L853.200 600.500L855 604.300zM831 607.300L837.300 606.500M850 605L856.300 604.200" fill="#333" stroke-width="0.8"/>
<!-- frame -->
<path d="M794.600 619.300L893.100 606.300L897.400 606.300L1008.800 650.900M795.500 621.300L893.500 608.300L1005 653M794.600 619.300L908.900 665.800M799 618.800L909.500 663.500M796 622L905 667.500" stroke-width="1.35"/>
<!-- interior -->
<path d="M833.700 616.500L869.900 613.700L876.400 632.300Q876.800 634.800 874.500 635.100Q872 635.200 869 634L836.400 618.400" stroke-width="1.35"/>
<path d="M873.600 610.900L896.800 645.300M881 610L902.400 637.900V652.800M893.500 608.500L905 623" stroke-width="1.35"/>
<!-- right face -->
<path d="M911.400 569.100L917.900 562.600L968 584L982.900 600.700L979.100 601.600L912.300 574.700z" stroke-width="1.35"/>
<path d="M917 553L919.500 556.500M954 567L956 572.500L963 574.500L966.100 571.900M968 575L998 610" stroke-width="1.35"/>
<path d="M903 582.500Q900.200 581.200 900.100 584L899.300 600Q899.300 602.600 902 603.700L990 639.300Q994 640.600 994.300 637L996.700 624Q997 621.200 994 620z" stroke-width="1.35"/>
<path d="M939.800 605.200L941.500 599L944.800 600.300L946 607.500zM950.700 609.200L952.400 603L955.700 604.300L957 611.500z" fill="#888" stroke-width="1.35"/>
<path d="M1000 616V648M1003.300 614.600V650" stroke-width="1.1"/>
<!-- near face -->
<path d="M906.700 627.600L908.600 665.700L1003.300 652.700" fill="none"/>
<path d="M906.700 627.600L936 624.500L950 630" stroke-width="1.35"/>
<path d="M908.600 614.600L936.400 624.900" stroke-width="1.1"/>
<path d="M914 636L936 634.200Q939 634.100 939.200 637L940 653Q940.300 656.500 943.500 656.300L964.500 653.800Q967.300 653.500 967.500 650.500L968 636M914 636Q912 636.300 912 638.300Q912.200 640.200 914.500 640L935 638.800" stroke-width="1.35"/>
<g fill="#ddd" stroke="#111" stroke-width="2.100"><ellipse cx="923.400" cy="656.400" rx="3.600" ry="5"/><ellipse cx="989.400" cy="647.800" rx="3.400" ry="4.600"/></g>
<g stroke-width="0.700"><ellipse cx="923.400" cy="656.400" rx="1.600" ry="3"/><ellipse cx="989.400" cy="647.800" rx="1.500" ry="2.800"/></g>
<path d="M942.100 652.500L944 648.300L945.800 652.100zM960.600 649.700L962.500 645.500L964.300 649.300zM940.800 652.800L947.100 652M959.300 650L965.600 649.200" fill="#333" stroke-width="0.8"/>
<path d="M904.600 624.500V630.500M894.500 587V591M907.300 642.500V648M1001.700 628V632M893.800 610L896.500 612.500" stroke="#111" stroke-width="1.800" stroke-linecap="butt"/>
<!-- screws -->
<g fill="#222" stroke="#222" stroke-width="0.600"><path d="M803.200 641.500H807.200L806 643.500V647.500H804.400V643.500zM895.100 678H899.100L897.900 680V684H896.300V680zM995.600 664.500H999.600L998.400 666.500V670.500H996.800V666.500z"/></g>
</g></g>

</svg>
</div>
</body></html>
